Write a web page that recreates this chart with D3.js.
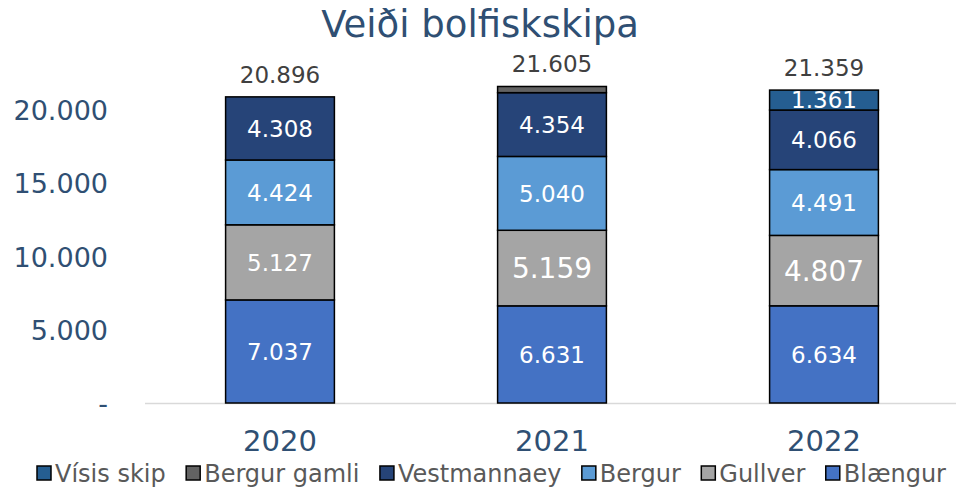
<!DOCTYPE html>
<html>
<head>
<meta charset="utf-8">
<script src="https://cdn.jsdelivr.net/npm/d3@7"></script>
<style>
  body { margin: 0; background: #fff; }
  text { font-family: "DejaVu Sans", Verdana, sans-serif; }
</style>
</head>
<body>
<svg id="chart" width="956" height="488"></svg>
<script>
// data
var years = ["2020", "2021", "2022"];
var blaengur = [7037, 6631, 6634];
var gullver = [5127, 5159, 4807];
var bergur = [4424, 5040, 4491];
var vestmannaey = [4308, 4354, 4066];
var bergurGamli = [0, 421, 0];
var visisSkip = [0, 0, 1361];
var totals = [20896, 21605, 21359];
var yTicks = [0, 5000, 10000, 15000, 20000];

var series = [
    { name: "Blængur", values: blaengur, color: "#4472C4" },
    { name: "Gullver", values: gullver, color: "#A5A5A5" },
    { name: "Bergur", values: bergur, color: "#5B9BD5" },
    { name: "Vestmannaey", values: vestmannaey, color: "#264478" },
    { name: "Bergur gamli", values: bergurGamli, color: "#636363" },
    { name: "Vísis skip", values: visisSkip, color: "#255E91" }
];
// the bigger Gullver labels in 2021 and 2022
var bigLabel = { "Gullver-2021": 28, "Gullver-2022": 28 };

var svg = d3.select("#chart");
var left = 144, right = 960, bottom = 403;

var x = d3.scaleBand().domain(years).range([left, right]).paddingInner(0.6).paddingOuter(0.3);
var y = d3.scaleLinear().domain([0, 20000]).range([bottom, 110]);

function fmt(v) {
    return d3.format(",")(v).replace(/,/g, ".");
}

// title
svg.append("text")
    .attr("x", 480).attr("y", 37)
    .attr("text-anchor", "middle")
    .style("font-size", "37px")
    .style("fill", "#2F4F73")
    .text("Veiði bolfiskskipa");

// y axis labels
svg.selectAll(".ytick").data(yTicks).enter().append("text")
    .attr("class", "ytick")
    .attr("x", 108)
    .attr("y", d => y(d) + 10)
    .attr("text-anchor", "end")
    .style("font-size", "27px")
    .style("fill", "#2F4F73")
    .text(d => d === 0 ? "-" : fmt(d));

// baseline
svg.append("line")
    .attr("x1", 145).attr("x2", 956)
    .attr("y1", bottom + 0.5).attr("y2", bottom + 0.5)
    .style("stroke", "#D9D9D9").style("stroke-width", 1.5);

// stack
var rows = years.map(function (yr, i) {
    var r = { year: yr };
    series.forEach(s => r[s.name] = s.values[i]);
    return r;
});
var stack = d3.stack().keys(series.map(s => s.name));
var layers = stack(rows);

layers.forEach(function (layer, k) {
    var s = series[k];
    var g = svg.append("g");
    g.selectAll("rect").data(layer.filter(d => d[1] - d[0] > 0)).enter().append("rect")
        .attr("x", d => x(d.data.year))
        .attr("width", x.bandwidth())
        .attr("y", d => y(d[1]))
        .attr("height", d => y(d[0]) - y(d[1]))
        .style("fill", s.color)
        .style("stroke", "#000")
        .style("stroke-width", 1.5);

    g.selectAll("text").data(layer.filter(d => d[1] - d[0] > 1000)).enter().append("text")
        .attr("x", d => x(d.data.year) + x.bandwidth() / 2)
        .attr("y", d => (y(d[0]) + y(d[1])) / 2)
        .attr("dy", "0.36em")
        .attr("text-anchor", "middle")
        .style("font-size", d => (bigLabel[s.name + "-" + d.data.year] || 23) + "px")
        .style("fill", "#fff")
        .text(d => fmt(d[1] - d[0]));
});

// totals
svg.selectAll(".total").data(years).enter().append("text")
    .attr("class", "total")
    .attr("x", d => x(d) + x.bandwidth() / 2)
    .attr("y", (d, i) => y(totals[i]) - 14)
    .attr("text-anchor", "middle")
    .style("font-size", "23px")
    .style("fill", "#404040")
    .text((d, i) => fmt(totals[i]));

// x labels
svg.selectAll(".xlab").data(years).enter().append("text")
    .attr("class", "xlab")
    .attr("x", d => x(d) + x.bandwidth() / 2)
    .attr("y", 451)
    .attr("text-anchor", "middle")
    .style("font-size", "29px")
    .style("fill", "#2F4F73")
    .text(d => d);

// legend, spread between x=37 and x=946
var legendOrder = series.slice().reverse();
var lg = svg.append("g");
var items = legendOrder.map(function (s) {
    var it = lg.append("g");
    it.append("rect")
        .attr("x", 0).attr("y", 466)
        .attr("width", 14).attr("height", 14)
        .style("fill", s.color)
        .style("stroke", "#000").style("stroke-width", 1.5);
    var t = it.append("text")
        .attr("x", 18).attr("y", 482)
        .style("font-size", "24px")
        .style("fill", "#595959")
        .text(s.name);
    return { g: it, w: 18 + t.node().getComputedTextLength() };
});
var used = d3.sum(items, d => d.w);
var gap = (946 - 37 - used) / (items.length - 1);
var lx = 37;
items.forEach(function (it) {
    it.g.attr("transform", "translate(" + lx + ",0)");
    lx += it.w + gap;
});
</script>
</body>
</html>
